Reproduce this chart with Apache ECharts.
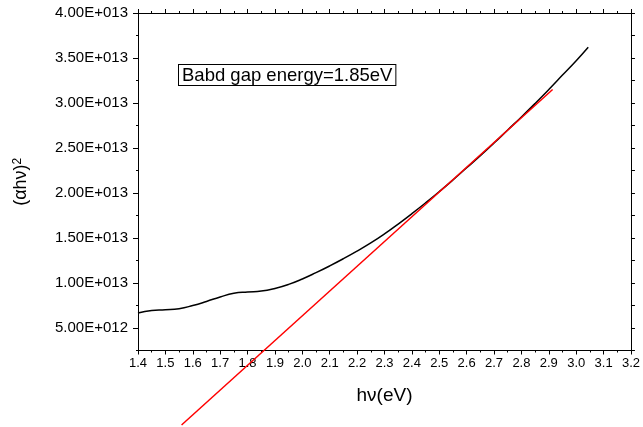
<!DOCTYPE html>
<html>
<head>
<meta charset="utf-8">
<script src="https://cdn.jsdelivr.net/npm/echarts@6/dist/echarts.min.js"></script>
<style>
  html, body { margin: 0; padding: 0; background: #fff; }
  #chart { width: 643px; height: 427px; }
</style>
</head>
<body>
<div id="chart"></div>
<script>
// measured curve, hv in eV, (ahv)^2 in units of 1e12
const hv = [1.40, 1.45, 1.50, 1.55, 1.60, 1.65, 1.70, 1.75, 1.80, 1.85, 1.90, 1.95, 2.00, 2.05, 2.10, 2.15, 2.20, 2.25, 2.30, 2.35, 2.40, 2.45, 2.50, 2.55, 2.60, 2.65, 2.70, 2.75, 2.80, 2.85, 2.90, 2.95, 3.00, 3.044]
const ahv2 = [6.67, 6.95, 7.02, 7.15, 7.5, 7.95, 8.45, 8.85, 9.0, 9.1, 9.4, 9.85, 10.45, 11.15, 11.9, 12.7, 13.55, 14.45, 15.45, 16.55, 17.7, 18.9, 20.15, 21.45, 22.8, 24.15, 25.55, 27.0, 28.45, 29.95, 31.5, 33.1, 34.7, 36.2]
// linear fit (tangent) end points
const fitX = [1.559, 2.914]
const fitY = [-5.78, 31.5]
const yLabelValues = [5, 10, 15, 20, 25, 30, 35, 40]
const noteText = 'Babd gap energy=1.85eV'

const font = "'Liberation Sans', Arial, sans-serif"
const E12 = 1e12

const sciFmt = function (v) {
  const e = Math.floor(Math.log10(v) + 1e-9)
  const m = v / Math.pow(10, e)
  return m.toFixed(2) + 'E+0' + e
}

const chart = echarts.init(document.getElementById('chart'), null, { renderer: 'canvas' })

const axisLine = { show: true, lineStyle: { color: '#000', width: 1 } }

const option = {
  animation: false,
  backgroundColor: '#fff',
  grid: { left: 138, top: 13, right: 10, bottom: 76.5 },
  xAxis: [
    {
      type: 'value',
      position: 'bottom',
      min: 1.4,
      max: 3.2,
      interval: 0.1,
      axisLine: axisLine,
      axisTick: { show: true, inside: false, length: 4, lineStyle: { color: '#000' } },
      minorTick: { show: true, splitNumber: 2, length: 2, lineStyle: { color: '#000' } },
      splitLine: { show: false },
      axisLabel: {
        color: '#000', fontFamily: font, fontSize: 13, margin: 6,
        formatter: (v) => v.toFixed(1),
      },
      name: 'hν(eV)',
      nameLocation: 'middle',
      nameGap: 36,
      nameTextStyle: { color: '#000', fontFamily: font, fontSize: 19 },
    },
    {
      type: 'value',
      position: 'top',
      min: 1.4,
      max: 3.2,
      interval: 0.1,
      axisLine: axisLine,
      axisTick: { show: true, inside: false, length: 4, lineStyle: { color: '#000' } },
      minorTick: { show: true, splitNumber: 2, length: 2, lineStyle: { color: '#000' } },
      splitLine: { show: false },
      axisLabel: { show: false },
    },
  ],
  yAxis: [
    {
      type: 'value',
      position: 'left',
      min: 2.5 * E12,
      max: 40 * E12,
      interval: 2.5 * E12,
      axisLine: axisLine,
      axisTick: {
        show: true, inside: false, length: 5, lineStyle: { color: '#000' },
        customValues: yLabelValues.map((v) => v * E12),
      },
      splitLine: { show: false },
      axisLabel: {
        color: '#000', fontFamily: font, fontSize: 15, margin: 10,
        customValues: yLabelValues.map((v) => v * E12),
        formatter: sciFmt,
      },
      name: '{b|(αhν)}{s|2}',
      nameLocation: 'middle',
      nameRotate: 90,
      nameGap: 108,
      nameTextStyle: {
        color: '#000', fontFamily: font,
        rich: {
          b: { fontFamily: font, fontSize: 18, color: '#000' },
          s: { fontFamily: font, fontSize: 12, color: '#000', verticalAlign: 'top', lineHeight: 16 },
        },
      },
    },
    {
      // short minor ticks on the left side
      type: 'value',
      position: 'left',
      min: 2.5 * E12,
      max: 40 * E12,
      interval: 2.5 * E12,
      axisLine: { show: false },
      axisTick: { show: true, inside: false, length: 2, lineStyle: { color: '#000' } },
      splitLine: { show: false },
      axisLabel: { show: false },
    },
    {
      type: 'value',
      position: 'right',
      min: 2.5 * E12,
      max: 40 * E12,
      interval: 2.5 * E12,
      axisLine: axisLine,
      axisTick: { show: true, inside: false, length: 4, lineStyle: { color: '#000' } },
      splitLine: { show: false },
      axisLabel: { show: false },
    },
  ],
  graphic: [
    {
      type: 'text',
      left: 178,
      top: 64,
      style: {
        text: noteText,
        font: '18.5px ' + font,
        fill: '#000',
        backgroundColor: '#fff',
        borderColor: '#000',
        borderWidth: 1,
        padding: [1, 3, 0, 3],
      },
      z: 10,
    },
  ],
  series: [
    {
      type: 'line',
      xAxisIndex: 0,
      yAxisIndex: 0,
      data: hv.map((x, i) => [x, ahv2[i] * E12]),
      smooth: 0.5,
      symbol: 'none',
      lineStyle: { color: '#000', width: 1.5 },
      z: 3,
    },
    {
      type: 'line',
      xAxisIndex: 0,
      yAxisIndex: 0,
      data: fitX.map((x, i) => [x, fitY[i] * E12]),
      clip: false,
      symbol: 'none',
      lineStyle: { color: '#ff0000', width: 1.5 },
      z: 4,
    },
  ],
}

chart.setOption(option)
</script>
</body>
</html>
